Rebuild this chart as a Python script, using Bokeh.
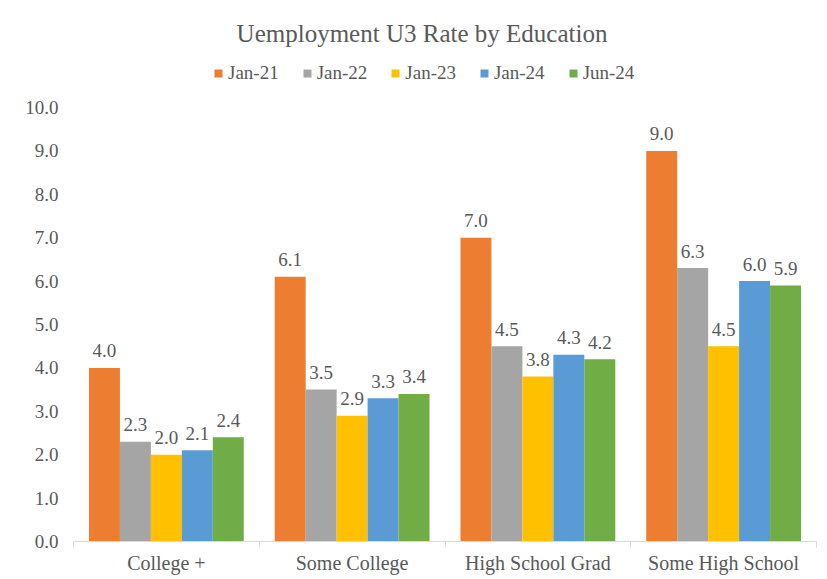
from bokeh.plotting import figure
from bokeh.models import (ColumnDataSource, Range1d, FixedTicker, PrintfTickFormatter,
                          Legend, LegendItem, Label, LinearAxis)
from bokeh.transform import dodge
from bokeh.core.properties import value
from bokeh.embed import file_html
from bokeh.resources import INLINE

categories = ["College +", "Some College", "High School Grad", "Some High School"]
series_names = ["Jan-21", "Jan-22", "Jan-23", "Jan-24", "Jun-24"]
jan21 = [4.0, 6.1, 7.0, 9.0]
jan22 = [2.3, 3.5, 4.5, 6.3]
jan23 = [2.0, 2.9, 3.8, 4.5]
jan24 = [2.1, 3.3, 4.3, 6.0]
jun24 = [2.4, 3.4, 4.2, 5.9]
y_ticks = [0, 1, 2, 3, 4, 5, 6, 7, 8, 9, 10]
colors = ["#ED7D31", "#A5A5A5", "#FFC000", "#5B9BD5", "#70AD47"]
title_text = "Uemployment U3 Rate by Education"

FONT = "Liberation Serif"
TXT = "#595959"
GRID = "#D9D9D9"

series = [jan21, jan22, jan23, jan24, jun24]
xc = [i + 0.5 for i in range(len(categories))]
data = {"x": xc}
for name, vals in zip(series_names, series):
    data[name] = vals
    data[name + "_lbl"] = ["%.1f" % v for v in vals]
source = ColumnDataSource(data)

p = figure(width=827, height=579, output_backend="svg", toolbar_location=None,
           x_range=Range1d(0, len(categories)), y_range=Range1d(0, 12.465),
           x_axis_type=None, y_axis_type=None, title=None,
           min_border_left=73, min_border_right=11, min_border_top=0, min_border_bottom=38)
p.outline_line_color = None
p.background_fill_color = "white"
p.border_fill_color = "white"

bw = 1.0 / 6.0
offsets = [-2 * bw, -bw, 0, bw, 2 * bw]
renderers = []
for name, col, off in zip(series_names, colors, offsets):
    r = p.vbar(x=dodge("x", off), top=name, width=bw, bottom=0, source=source,
               fill_color=col, line_color=None)
    renderers.append(r)
    p.text(x=dodge("x", off), y=name, text=name + "_lbl", source=source,
           text_align="center", text_baseline="middle", y_offset=-17,
           text_font=value(FONT), text_font_size="19px", text_color=TXT)

# y axis
yaxis = LinearAxis(ticker=FixedTicker(ticks=y_ticks),
                   formatter=PrintfTickFormatter(format="%.1f"))
yaxis.axis_line_color = None
yaxis.major_tick_line_color = None
yaxis.minor_tick_line_color = None
yaxis.major_tick_out = 0
yaxis.major_tick_in = 0
yaxis.major_label_standoff = 15
yaxis.major_label_text_font = FONT
yaxis.major_label_text_font_size = "19px"
yaxis.major_label_text_color = TXT
p.add_layout(yaxis, "left")

# x axis
xaxis = LinearAxis(ticker=FixedTicker(ticks=xc, minor_ticks=list(range(len(categories) + 1))))
xaxis.major_label_overrides = {x: c for x, c in zip(xc, categories)}
xaxis.axis_line_color = GRID
xaxis.major_tick_line_color = None
xaxis.major_tick_out = 0
xaxis.major_tick_in = 0
xaxis.minor_tick_line_color = GRID
xaxis.minor_tick_out = 6
xaxis.minor_tick_in = 0
xaxis.major_label_standoff = 4
xaxis.major_label_text_font = FONT
xaxis.major_label_text_font_size = "20px"
xaxis.major_label_text_color = TXT
p.add_layout(xaxis, "below")

p.xgrid.visible = False
p.ygrid.ticker = FixedTicker(ticks=y_ticks)
p.ygrid.grid_line_color = GRID
p.ygrid.grid_line_width = 1

legend = Legend(items=[LegendItem(label=n, renderers=[r]) for n, r in zip(series_names, renderers)],
                orientation="horizontal", location=(140, 457),
                glyph_width=10, glyph_height=10, label_standoff=5, spacing=23,
                padding=0, margin=0, border_line_color=None, background_fill_alpha=0,
                label_text_font=FONT, label_text_font_size="19px", label_text_color=TXT)
p.add_layout(legend, "center")

p.add_layout(Label(x=348.5, y=508, x_units="screen", y_units="screen", text=title_text,
                   text_align="center", text_baseline="middle",
                   text_font=FONT, text_font_size="25px", text_color=TXT))

open("out.html", "w").write(file_html(p, INLINE))
